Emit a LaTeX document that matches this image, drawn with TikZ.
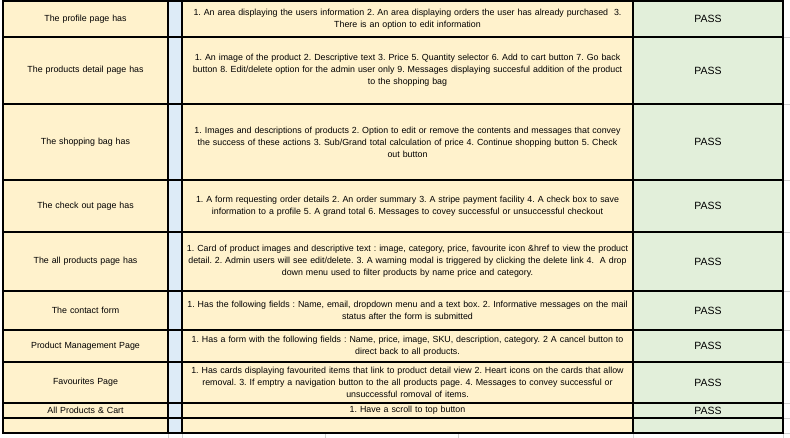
\documentclass[tikz,border=0pt]{standalone}
\usepackage{fontspec}
\setmainfont{Liberation Sans}
\frenchspacing
\definecolor{cream}{HTML}{FFF2CC}
\definecolor{paleblue}{HTML}{DDEBF7}
\definecolor{palegreen}{HTML}{E2EFDA}
\definecolor{gridgray}{HTML}{D0D0D0}
\tikzset{
  cell/.style={draw=black, line width=2.4pt, inner sep=0pt, align=center,
    font=\fontsize{8.85}{12}\selectfont\frenchspacing, text=black},
  namecell/.style={cell, fill=cream, minimum width=165pt, text width=162pt},
  gapcell/.style={cell, fill=paleblue, minimum width=14pt},
  desccell/.style={cell, fill=cream, minimum width=451pt, text width=449pt},
  passcell/.style={cell, fill=palegreen, minimum width=150pt, text width=146pt,
    font=\fontsize{10.5}{12}\selectfont},
  gridline/.style={draw=gridgray, line width=0.8pt},
}
\newcommand\tablerow[6]{%
  \node[namecell, minimum height={#3pt-#2pt}] (#1name) at (85.5,{(#2+#3)/2}) {#4};
  \node[gapcell,  minimum height={#3pt-#2pt}] (#1gap)  at (175,{(#2+#3)/2}) {};
  \node[desccell, minimum height={#3pt-#2pt}] (#1desc) at (407.5,{(#2+#3)/2}) {#5};
  \node[passcell, minimum height={#3pt-#2pt}] (#1pass) at (708,{(#2+#3)/2}) {#6};
}
\begin{document}
\begin{tikzpicture}[x=1pt,y=-1pt]
\useasboundingbox (0,0) rectangle (790,438);
\fill[white] (0,0) rectangle (790,438);
% faint spreadsheet grid outside the table
\foreach \yy in {37,104,180,232,291,330,362,403,418,433}
  \draw[gridline] (784,\yy) -- (790,\yy);
\foreach \xx in {168,182,325,458,633,783}
  \draw[gridline] (\xx,434) -- (\xx,438);
\tablerow{r1}{1}{37}{The profile page has}{1. An area displaying the users information 2. An area displaying orders the user has already purchased\ \ 3.\\There is an option to edit information}{PASS}
\tablerow{r2}{37}{104}{The products detail page has}{1. An image of the product 2. Descriptive text 3. Price 5. Quantity selector 6. Add to cart button 7. Go back\\button 8. Edit/delete option for the admin user only 9. Messages displaying succesful addition of the product\\to the shopping bag}{PASS}
\tablerow{r3}{104}{180}{The shopping bag has}{1. Images and descriptions of products 2. Option to edit or remove the contents and messages that convey\\the success of these actions 3. Sub/Grand total calculation of price 4. Continue shopping button 5. Check\\out button}{PASS}
\tablerow{r4}{180}{232}{The check out page has}{1. A form requesting order details 2. An order summary 3. A stripe payment facility 4. A check box to save\\information to a profile 5. A grand total 6. Messages to covey successful or unsuccessful checkout}{PASS}
\tablerow{r5}{232}{291}{The all products page has}{1. Card of product images and descriptive text : image, category, price, favourite icon \&href to view the product\\detail. 2. Admin users will see edit/delete. 3. A warning modal is triggered by clicking the delete link 4.\ \ A drop\\down menu used to filter products by name price and category.}{PASS}
\tablerow{r6}{291}{330}{The contact form}{1. Has the following fields : Name, email, dropdown menu and a text box. 2. Informative messages on the mail\\status after the form is submitted}{PASS}
\tablerow{r7}{330}{362}{Product Management Page}{1. Has a form with the following fields : Name, price, image, SKU, description, category. 2 A cancel button to\\direct back to all products.}{PASS}
\tablerow{r8}{362}{403}{Favourites Page}{1. Has cards displaying favourited items that link to product detail view 2. Heart icons on the cards that allow\\removal. 3. If emptry a navigation button to the all products page. 4. Messages to convey successful or\\unsuccessful romoval of items.}{PASS}
\tablerow{r9}{403}{418}{All Products \& Cart}{1. Have a scroll to top button}{PASS}
\tablerow{r10}{418}{433}{}{}{}
\end{tikzpicture}
\end{document}
